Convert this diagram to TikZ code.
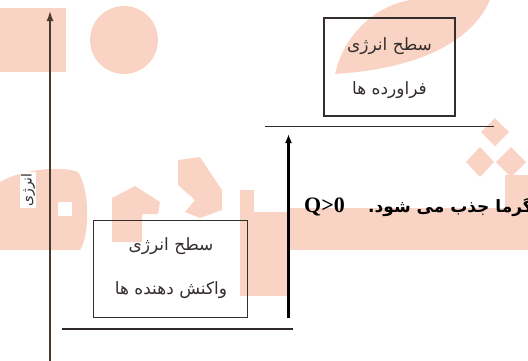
\documentclass[tikz,border=0pt]{standalone}
\usepackage{fontspec}
\usetikzlibrary{arrows.meta}
\setmainfont{Liberation Serif}
\newfontfamily\fa[Script=Arabic]{DejaVu Sans}
\TeXXeTstate=1
\definecolor{wm}{RGB}{249,212,196}
\definecolor{ink}{RGB}{52,46,44}
\tikzset{
  boxnode/.style={draw=ink, line width=1.2pt, inner sep=0pt, rectangle},
  boxtxt/.style={inner sep=0pt, font=\fa\fontsize{17}{19}\selectfont, text=ink},
  levelline/.style={draw=ink!90!black, line width=1.9pt},
  axisline/.style={draw=ink!85!brown, line width=1.6pt, -{Latex[length=10pt,width=7pt]}},
  uparrow/.style={draw=black, line width=2.2pt, -{Latex[length=9pt,width=7pt]}},
}
\begin{document}
\begin{tikzpicture}[x=1pt,y=-1pt]
\useasboundingbox (0,0) rectangle (528,360);
\clip (0,0) rectangle (528,360);
% watermark
\fill[wm] (0,8) rectangle (66,72);
\fill[wm] (124,40) circle[radius=34pt];
\fill[wm] (335,74) .. controls (345,30) and (380,5) .. (410,0) -- (490,0) .. controls (475,35) and (430,68) .. (335,74) -- cycle;
\fill[wm, even odd rule] (0,182) .. controls (20,170) and (60,165) .. (78,172) .. controls (90,190) and (90,235) .. (80,250) -- (0,250) -- cycle (58,202) rectangle (72,216);
\fill[wm] (112,198) -- (135,186) -- (160,202) -- (158,214) -- (142,214) -- (142,242) -- (112,242) -- cycle;
\fill[wm] (178,160) -- (200,157) -- (222,190) -- (222,210) -- (200,218) -- (185,212) -- (195,200) -- (178,185) -- cycle;
\fill[wm] (240,190) rectangle (254,296);
\fill[wm] (240,212) rectangle (287,296);
\fill[wm] (287,208) rectangle (528,250);
\fill[wm] (495,118) -- (509,132) -- (495,146) -- (481,132) -- cycle;
\fill[wm] (480,147) -- (494,162) -- (480,177) -- (466,162) -- cycle;
\fill[wm] (511,147) -- (526,162) -- (511,177) -- (496,162) -- cycle;
\fill[wm] (505,175) rectangle (528,210);
% axis
\coordinate (axb) at (50,362);
\coordinate (axt) at (50,11);
\draw[axisline] (axb) -- (axt);
\node[fill=white, inner sep=1pt, rotate=90, font=\fa\fontsize{14}{16}\selectfont, text=ink] (ylab) at (28,190) {\beginR انرژی\endR};
% product box
\node[boxnode, minimum width=131pt, minimum height=98pt] (pbox) at (389.5,67) {};
\node[boxtxt] (p1) at (389.5,46) {\beginR سطح انرژی\endR};
\node[boxtxt] (p2) at (389.5,90) {\beginR فراورده ها\endR};
% reactant box
\node[boxnode, minimum width=154pt, minimum height=97.5pt] (rbox) at (170.5,269) {};
\node[boxtxt] (r1) at (171,246) {\beginR سطح انرژی\endR};
\node[boxtxt] (r2) at (171,290) {\beginR واکنش دهنده ها\endR};
% levels
\coordinate (pl1) at (265,126.5);
\coordinate (pl2) at (494,126.5);
\draw[levelline] (pl1) -- (pl2);
\coordinate (rl1) at (62,329);
\coordinate (rl2) at (293,329);
\draw[levelline] (rl1) -- (rl2);
% arrow
\coordinate (ab) at (288.5,318);
\coordinate (at) at (288.5,134);
\draw[uparrow] (ab) -- (at);
% heat label
\node[anchor=base west, inner sep=0pt, font=\bfseries\fontsize{22}{24}\selectfont] (q) at (304,212) {Q>0};
\node[anchor=base west, inner sep=0pt, font=\fa\bfseries\fontsize{17}{19}\selectfont] (heat) at (368,212) {\beginR گرما جذب می شود.\endR};
\end{tikzpicture}
\end{document}
